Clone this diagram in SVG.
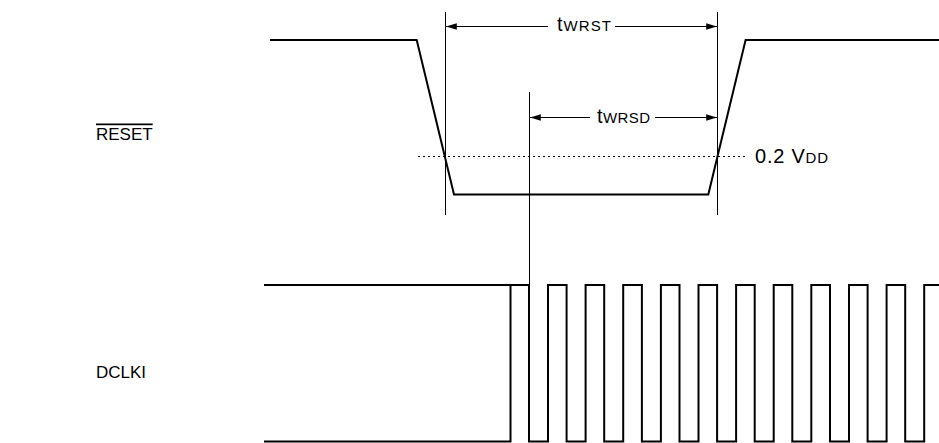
<svg xmlns="http://www.w3.org/2000/svg" width="939" height="443" viewBox="0 0 939 443">
<style>
.sig{fill:none;stroke:#000;stroke-width:2;stroke-linejoin:miter}
.dim{fill:none;stroke:#000;stroke-width:1}
.dot{fill:none;stroke:#000;stroke-width:1;stroke-dasharray:2 3}
.lbl{font-family:"Liberation Sans",Arial,sans-serif;fill:#000}
</style>
<defs>
<marker id="ah" viewBox="0 0 10 6" refX="10" refY="3" markerWidth="11" markerHeight="6.5" markerUnits="userSpaceOnUse" orient="auto">
<path d="M0,0 L10,3 L0,6 z" fill="#000"/>
</marker>
</defs>
<rect width="939" height="443" fill="#fff"/>
<g id="label-reset"><text class="lbl" x="96" y="139.5" font-size="17" text-decoration="overline">RESET</text></g>
<g id="label-dclki"><text class="lbl" x="96" y="377.5" font-size="17">DCLKI</text></g>
<g id="reset-wave"><path class="sig" d="M270,40 H416.7 L454,194.5 H708.3 L745.6,40 H939"/></g>
<g id="dclki-wave"><path class="sig" d="M264,285 H529 M264,441.5 H510.5 V285 M529,285 V441.5 H548 V285 H566.6 V441.5 H585.6 V285 H604.2 V441.5 H623.2 V285 H641.9 V441.5 H660.9 V285 H679.5 V441.5 H698.5 V285 H717.1 V441.5 H736.1 V285 H754.7 V441.5 H773.7 V285 H792.3 V441.5 H811.3 V285 H830 V441.5 H849 V285 H867.6 V441.5 H886.6 V285 H905.2 V441.5 H924.2 V285 H939"/></g>
<g id="connectors">
<line class="dim" x1="445.5" y1="12" x2="445.5" y2="215"/>
<line class="dim" x1="717.5" y1="12" x2="717.5" y2="215"/>
<line class="dim" x1="529.5" y1="92" x2="529.5" y2="285"/>
<line class="dot" x1="418" y1="156.5" x2="746" y2="156.5"/>
<line class="dim" x1="548" y1="26.5" x2="446" y2="26.5" marker-end="url(#ah)"/>
<line class="dim" x1="615" y1="26.5" x2="717" y2="26.5" marker-end="url(#ah)"/>
<line class="dim" x1="590" y1="117.5" x2="530" y2="117.5" marker-end="url(#ah)"/>
<line class="dim" x1="655" y1="117.5" x2="717" y2="117.5" marker-end="url(#ah)"/>
</g>
<g id="label-twrst"><text class="lbl" x="557" y="31" font-size="20" textLength="54">t<tspan font-size="15">WRST</tspan></text></g>
<g id="label-twrsd"><text class="lbl" x="597" y="122.5" font-size="20" textLength="53">t<tspan font-size="15">WRSD</tspan></text></g>
<g id="label-vdd"><text class="lbl" x="755" y="162.5" font-size="20" textLength="73">0.2 V<tspan font-size="15">DD</tspan></text></g>
</svg>
